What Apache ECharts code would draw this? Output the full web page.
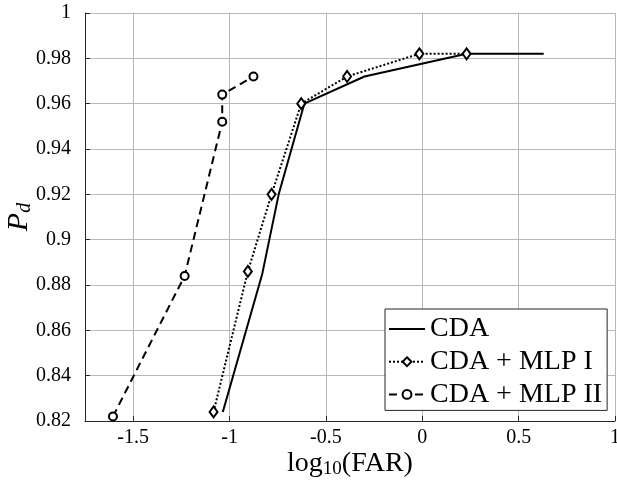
<!DOCTYPE html>
<html>
<head>
<meta charset="utf-8">
<script src="https://cdn.jsdelivr.net/npm/echarts@6/dist/echarts.min.js"></script>
<style>
  html, body { margin: 0; padding: 0; background: #fff; }
  #chart { width: 617px; height: 486px; }
</style>
</head>
<body>
<div id="chart"></div>
<script>
// x tick positions of the log10(FAR) axis
const xTicks = [-1.5, -1, -0.5, 0, 0.5, 1];

// CDA (solid)
const cdaX = [-1.035, -0.83, -0.745, -0.612, -0.30, 0.23, 0.63];
const cdaY = [0.824, 0.885, 0.92, 0.96, 0.972, 0.982, 0.982];

// CDA + MLP I (dotted, diamonds)
const mlp1X = [-1.083, -0.905, -0.782, -0.628, -0.39, -0.015, 0.23];
const mlp1Y = [0.824, 0.886, 0.92, 0.96, 0.972, 0.982, 0.982];

// CDA + MLP II (dashed, circles)
const mlp2X = [-1.605, -1.233, -1.038, -1.038, -0.876];
const mlp2Y = [0.822, 0.884, 0.952, 0.964, 0.972];

const pairs = (xs, ys) => xs.map((x, i) => [x, ys[i]]);

const serif = '"Liberation Serif", "Times New Roman", serif';
const axisColor = '#262626';
const gridColor = '#b8b8b8';

const chart = echarts.init(document.getElementById('chart'));

const option = {
  animation: false,
  backgroundColor: '#fff',
  grid: { left: 85, right: 2, top: 13, bottom: 65, outerBoundsMode: 'none', containLabel: false },
  xAxis: {
    type: 'value',
    min: -1.75,
    max: 1,
    name: '{t|log}{s|10}{t|(FAR)}',
    nameLocation: 'middle',
    nameGap: 28,
    nameMoveOverlap: false,
    nameTextStyle: {
      rich: {
        t: { fontFamily: serif, fontSize: 28, color: '#000', lineHeight: 30 },
        s: { fontFamily: serif, fontSize: 19, color: '#000', lineHeight: 12, verticalAlign: 'bottom' }
      }
    },
    axisLine: { show: true, onZero: false, lineStyle: { color: axisColor, width: 1 } },
    axisTick: { show: true, inside: true, length: 5, customValues: xTicks, lineStyle: { color: axisColor } },
    axisLabel: { customValues: xTicks, fontFamily: serif, fontSize: 20, color: '#000', margin: 7 },
    splitLine: { show: true, lineStyle: { color: gridColor, width: 1 } }
  },
  yAxis: {
    type: 'value',
    min: 0.82,
    max: 1,
    interval: 0.02,
    name: '{t|P}{s|d}',
    nameLocation: 'middle',
    nameGap: 50,
    nameMoveOverlap: false,
    nameTextStyle: {
      rich: {
        t: { fontFamily: serif, fontStyle: 'italic', fontSize: 30, color: '#000', lineHeight: 32 },
        s: { fontFamily: serif, fontStyle: 'italic', fontSize: 20, color: '#000', lineHeight: 12, verticalAlign: 'bottom' }
      }
    },
    axisLine: { show: true, onZero: false, lineStyle: { color: axisColor, width: 1 } },
    axisTick: { show: true, inside: true, length: 5, lineStyle: { color: axisColor } },
    axisLabel: { fontFamily: serif, fontSize: 20, color: '#000', margin: 14 },
    splitLine: { show: true, lineStyle: { color: gridColor, width: 1 } }
  },
  legend: {
    orient: 'vertical',
    left: 385,
    top: 309,
    backgroundColor: '#fff',
    borderColor: axisColor,
    borderWidth: 1,
    borderRadius: 0,
    padding: [6, 5, 2, 3],
    itemWidth: 36,
    itemHeight: 11,
    itemGap: 4.7,
    textStyle: { fontFamily: serif, fontSize: 28, color: '#000', lineHeight: 28 },
    data: [
      { name: 'CDA', itemStyle: { opacity: 0 } },
      { name: 'CDA + MLP I' },
      { name: 'CDA + MLP II' }
    ]
  },
  series: [
    {
      name: 'CDA',
      type: 'line',
      data: pairs(cdaX, cdaY),
      symbol: 'none',
      lineStyle: { color: '#000', width: 2, type: 'solid' },
      itemStyle: { color: '#000' },
      z: 3
    },
    {
      name: 'CDA + MLP I',
      type: 'line',
      data: pairs(mlp1X, mlp1Y),
      symbol: 'diamond',
      symbolSize: [8, 11],
      lineStyle: { color: '#000', width: 2, type: [2, 2] },
      itemStyle: { color: '#fff', borderColor: '#000', borderWidth: 2 },
      z: 4
    },
    {
      name: 'CDA + MLP II',
      type: 'line',
      data: pairs(mlp2X, mlp2Y),
      symbol: 'circle',
      symbolSize: 8,
      lineStyle: { color: '#000', width: 2, type: [8, 5] },
      itemStyle: { color: '#fff', borderColor: '#000', borderWidth: 2 },
      z: 5
    }
  ]
};

chart.setOption(option);
</script>
</body>
</html>
